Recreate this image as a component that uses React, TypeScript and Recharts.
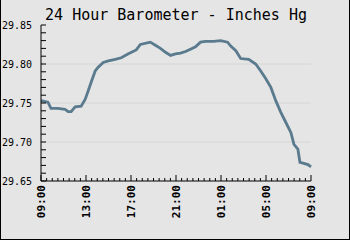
import React from 'react'
import { LineChart, Line, XAxis, YAxis, ReferenceLine } from 'recharts'

// minutes since 09:00
const minutes = [
  0, 37, 53, 90, 128, 144, 161, 182, 214, 236, 251, 268, 289, 305, 332, 359,
  396, 428, 466, 508, 530, 583, 610, 637, 664, 691, 717, 744, 771, 797, 824,
  851, 878, 920, 958, 995, 1012, 1039, 1065, 1108, 1145, 1172, 1199, 1226,
  1252, 1279, 1306, 1333, 1349, 1370, 1381, 1397, 1424, 1440,
]
const pressure = [
  29.753, 29.751, 29.743, 29.743, 29.742, 29.739, 29.739, 29.745, 29.746,
  29.755, 29.765, 29.777, 29.791, 29.796, 29.802, 29.804, 29.806, 29.808,
  29.813, 29.818, 29.825, 29.828, 29.824, 29.82, 29.815, 29.811, 29.813,
  29.814, 29.816, 29.819, 29.822, 29.828, 29.829, 29.829, 29.83, 29.828,
  29.823, 29.817, 29.807, 29.806, 29.8, 29.791, 29.781, 29.77, 29.753,
  29.738, 29.725, 29.712, 29.697, 29.691, 29.674, 29.673, 29.671, 29.668,
]
const timeLabels = ['09:00', '13:00', '17:00', '21:00', '01:00', '05:00', '09:00']
const gridValues = [29.7, 29.75, 29.8]

const data = minutes.map((m, i) => ({ t: m, p: pressure[i] }))

const xTicks = Array.from({ length: 49 }, (_, i) => i * 30)
const yTicks = Array.from({ length: 21 }, (_, i) => +(29.65 + i * 0.01).toFixed(2))

const mono = '"DejaVu Sans Mono", monospace'

const XTick = ({ x, y, payload }: any) => {
  const v = payload.value
  const major = v % 240 === 0
  return (
    <g>
      <line x1={x} y1={y} x2={x} y2={y - (major ? 6 : 3)} stroke="#000" />
      {major && (
        <text
          x={x}
          y={y + 4}
          transform={`rotate(-90, ${x}, ${y + 4})`}
          textAnchor="end"
          dominantBaseline="central"
          fontFamily={mono}
          fontSize={11}
          fontWeight="bold"
          fill="#000"
        >
          {timeLabels[v / 240]}
        </text>
      )}
    </g>
  )
}

const YTick = ({ x, y, payload }: any) => {
  const v = payload.value
  const major = Math.round(v * 100) % 5 === 0
  return (
    <g>
      <line x1={x} y1={y} x2={x + 5} y2={y} stroke="#000" />
      {major && (
        <text
          x={x - 9}
          y={y}
          textAnchor="end"
          dominantBaseline="central"
          fontFamily={mono}
          fontSize={10}
          fill="#000"
        >
          {v.toFixed(2)}
        </text>
      )}
    </g>
  )
}

export default function App() {
  return (
    <div
      style={{
        position: 'absolute', left: 0, top: 0, width: 350, height: 240,
        background: '#e5e5e5', boxSizing: 'border-box',
        borderLeft: '1px solid #000', borderRight: '1px solid #000', borderBottom: '1px solid #000',
      }}
    >
      <div
        style={{
          position: 'absolute', left: 2, right: 0, top: 6, textAlign: 'center',
          fontFamily: mono, fontSize: 15, color: '#000',
        }}
      >
        24 Hour Barometer - Inches Hg
      </div>
      <LineChart
        width={348}
        height={239}
        data={data}
        margin={{ top: 25, right: 38, bottom: 0, left: 0 }}
        style={{ position: 'absolute', left: 0, top: 0 }}
      >
        {gridValues.map(g => (
          <ReferenceLine key={g} y={g} stroke="#d6d6d6" />
        ))}
        <XAxis
          dataKey="t"
          type="number"
          domain={[0, 1440]}
          ticks={xTicks}
          interval={0}
          height={58}
          tickLine={false}
          tickSize={0}
          tickMargin={0}
          axisLine={{ stroke: '#000' }}
          tick={<XTick />}
        />
        <YAxis
          type="number"
          domain={[29.65, 29.85]}
          ticks={yTicks}
          interval={0}
          width={40}
          tickLine={false}
          tickSize={0}
          tickMargin={0}
          axisLine={{ stroke: '#000' }}
          tick={<YTick />}
        />
        <Line
          type="linear"
          dataKey="p"
          stroke="#5a7a8e"
          strokeWidth={2.8}
          dot={false}
          isAnimationActive={false}
        />
      </LineChart>
    </div>
  )
}
